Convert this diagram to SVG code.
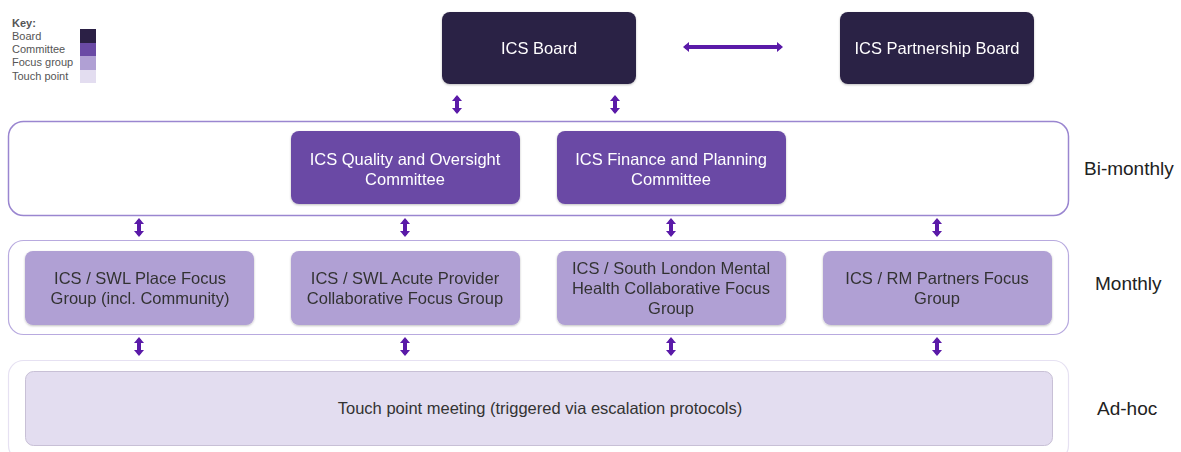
<svg xmlns="http://www.w3.org/2000/svg" width="1181" height="452" viewBox="0 0 1181 452">
  <defs>
    <!-- arrowhead: 6 long, 10 wide, tip at path end -->
    <marker id="ah" viewBox="0 0 6 10" refX="4" refY="5" markerWidth="6" markerHeight="10" markerUnits="userSpaceOnUse" orient="auto-start-reverse">
      <path d="M0,0 L6,5 L0,10 z" fill="#5a1aa8"/>
    </marker>
    <filter id="sh" x="-5%" y="-5%" width="110%" height="115%">
      <feDropShadow dx="0" dy="1" stdDeviation="0.8" flood-color="#000" flood-opacity="0.25"/>
    </filter>
  </defs>
  <style>
    text { font-family: "Liberation Sans", Arial, sans-serif; }
    .key { font-size: 11px; fill: #555; }
    .board { fill: #2b2045; }
    .committee { fill: #6a4aa5; }
    .focus { fill: #b0a0d4; }
    .touch { fill: #e3ddf0; stroke: #c8c0d6; stroke-width: 1; }
    .light { fill: #ffffff; font-size: 16.5px; text-anchor: middle; }
    .dark { fill: #333333; font-size: 16.5px; text-anchor: middle; }
    .freq { fill: #222; font-size: 19px; }
    .conn { stroke: #5a1aa8; stroke-width: 4; fill: none; marker-start: url(#ah); marker-end: url(#ah); }
  </style>
  <rect width="1181" height="452" fill="#ffffff"/>

  <!-- key -->
  <g id="key">
    <text x="12" y="27" class="key" font-weight="bold" fill="#333">Key:</text>
    <text x="12" y="40" class="key">Board</text>
    <text x="12" y="53" class="key">Committee</text>
    <text x="12" y="66" class="key">Focus group</text>
    <text x="12" y="80" class="key">Touch point</text>
    <rect x="80" y="29" width="16" height="14" fill="#2b2045"/>
    <rect x="80" y="43" width="16" height="13" fill="#6a4aa5"/>
    <rect x="80" y="56" width="16" height="14" fill="#b0a0d4"/>
    <rect x="80" y="70" width="16" height="13" fill="#e3ddf0"/>
  </g>

  <!-- tier containers -->
  <g id="tier-bimonthly">
    <rect x="8.5" y="121.5" width="1060" height="94" rx="15" fill="#fff" stroke="#9a86d0" stroke-width="1.5"/>
    <text x="1084" y="175" class="freq">Bi-monthly</text>
  </g>
  <g id="tier-monthly">
    <rect x="8.5" y="240.5" width="1060" height="94" rx="15" fill="#fff" stroke="#b8aadf" stroke-width="1.2"/>
    <text x="1095" y="290" class="freq">Monthly</text>
  </g>
  <g id="tier-adhoc">
    <rect x="8.5" y="360.5" width="1060" height="100" rx="15" fill="#fff" stroke="#e6e1f2" stroke-width="1.2"/>
    <text x="1097" y="415" class="freq">Ad-hoc</text>
  </g>

  <!-- boards -->
  <g id="ics-board" filter="url(#sh)">
    <rect x="442" y="12" width="194" height="72" rx="8" class="board"/>
    <text x="539" y="54" class="light">ICS Board</text>
  </g>
  <g id="ics-partnership-board" filter="url(#sh)">
    <rect x="840" y="12" width="194" height="72" rx="8" class="board"/>
    <text x="937" y="54" class="light">ICS Partnership Board</text>
  </g>

  <!-- committees -->
  <g id="quality-oversight" filter="url(#sh)">
    <rect x="291" y="131" width="229" height="73" rx="8" class="committee"/>
    <text x="405" y="165" class="light">ICS Quality and Oversight</text>
    <text x="405" y="185" class="light">Committee</text>
  </g>
  <g id="finance-planning" filter="url(#sh)">
    <rect x="557" y="131" width="229" height="73" rx="8" class="committee"/>
    <text x="671" y="165" class="light">ICS Finance and Planning</text>
    <text x="671" y="185" class="light">Committee</text>
  </g>

  <!-- focus groups -->
  <g id="swl-place" filter="url(#sh)">
    <rect x="25" y="251" width="229" height="74" rx="8" class="focus"/>
    <text x="140" y="284" class="dark">ICS / SWL Place Focus</text>
    <text x="140" y="304" class="dark">Group (incl. Community)</text>
  </g>
  <g id="swl-acute" filter="url(#sh)">
    <rect x="291" y="251" width="229" height="74" rx="8" class="focus"/>
    <text x="405" y="284" class="dark">ICS / SWL Acute Provider</text>
    <text x="405" y="304" class="dark">Collaborative Focus Group</text>
  </g>
  <g id="sl-mental-health" filter="url(#sh)">
    <rect x="557" y="251" width="229" height="74" rx="8" class="focus"/>
    <text x="671" y="274" class="dark">ICS / South London Mental</text>
    <text x="671" y="294" class="dark">Health Collaborative Focus</text>
    <text x="671" y="314" class="dark">Group</text>
  </g>
  <g id="rm-partners" filter="url(#sh)">
    <rect x="823" y="251" width="229" height="74" rx="8" class="focus"/>
    <text x="937" y="284" class="dark">ICS / RM Partners Focus</text>
    <text x="937" y="304" class="dark">Group</text>
  </g>

  <!-- touch point -->
  <g id="touch-point">
    <rect x="25.5" y="371.5" width="1027" height="74" rx="8" class="touch"/>
    <text x="540" y="414" class="dark" fill="#444">Touch point meeting (triggered via escalation protocols)</text>
  </g>

  <!-- connectors -->
  <g id="connectors">
    <path class="conn" d="M685,47 H781"/>
    <path class="conn" d="M457,97 V112"/>
    <path class="conn" d="M615,97 V112"/>
    <path class="conn" d="M139,220 V235"/>
    <path class="conn" d="M405,220 V235"/>
    <path class="conn" d="M671,220 V235"/>
    <path class="conn" d="M937,220 V235"/>
    <path class="conn" d="M139,339 V354"/>
    <path class="conn" d="M405,339 V354"/>
    <path class="conn" d="M671,339 V354"/>
    <path class="conn" d="M937,339 V354"/>
  </g>
</svg>
